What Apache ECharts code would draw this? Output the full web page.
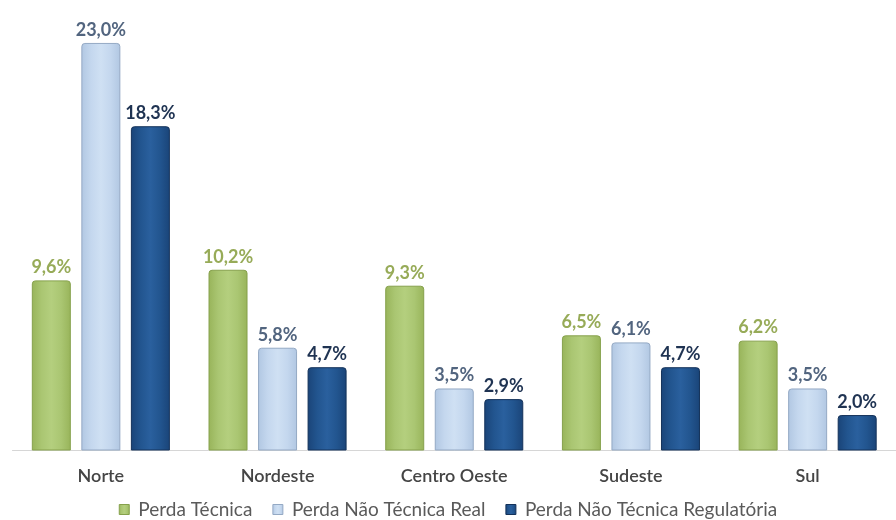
<!DOCTYPE html>
<html>
<head>
<meta charset="utf-8">
<script src="https://cdn.jsdelivr.net/npm/echarts@6/dist/echarts.min.js"></script>
<style>
  html, body { margin: 0; padding: 0; background: #ffffff; }
  #chart { width: 896px; height: 520px; }
</style>
</head>
<body>
<div id="chart"></div>
<script>
// Regiões e perdas de energia (% da energia injetada)
const regioes = ['Norte', 'Nordeste', 'Centro Oeste', 'Sudeste', 'Sul'];
const perdaTecnica = [9.6, 10.2, 9.3, 6.5, 6.2];
const perdaNaoTecnicaReal = [23.0, 5.8, 3.5, 6.1, 3.5];
const perdaNaoTecnicaRegulatoria = [18.3, 4.7, 2.9, 4.7, 2.0];
const nomesSeries = ['Perda Técnica', 'Perda Não Técnica Real', 'Perda Não Técnica Regulatória'];

const FONT = 'Lato, "Open Sans", sans-serif';

function cylinder(edge, mid, light) {
  return new echarts.graphic.LinearGradient(0, 0, 1, 0, [
    { offset: 0, color: edge },
    { offset: 0.25, color: mid },
    { offset: 0.5, color: light },
    { offset: 0.75, color: mid },
    { offset: 1, color: edge }
  ]);
}

const estilos = [
  { fill: cylinder('#98b45a', '#aac672', '#b4cf7e'), border: '#86a14c', label: '#97ab58' },
  { fill: cylinder('#b1c7e2', '#c4d7ee', '#cfe0f3'), border: '#94a9c4', label: '#52657f' },
  { fill: cylinder('#1a4478', '#22558f', '#2a609e'), border: '#14325a', label: '#1f3352' }
];

const valores = [perdaTecnica, perdaNaoTecnicaReal, perdaNaoTecnicaRegulatoria];

const series = nomesSeries.map((nome, i) => ({
  name: nome,
  type: 'bar',
  data: valores[i],
  barWidth: 39,
  barGap: '27%',
  itemStyle: {
    color: estilos[i].fill,
    borderColor: estilos[i].border,
    borderWidth: 1,
    borderRadius: [3, 3, 0, 0]
  },
  label: {
    show: true,
    position: 'top',
    distance: 4,
    formatter: p => p.value.toFixed(1).replace('.', ',') + '%',
    color: estilos[i].label,
    fontFamily: FONT,
    fontWeight: 'bold',
    fontSize: 18
  }
}));

const chart = echarts.init(document.getElementById('chart'), null, { renderer: 'canvas' });
chart.setOption({
  animation: false,
  backgroundColor: '#ffffff',
  grid: { left: 12.5, width: 895, top: 7.5, bottom: 69.5, containLabel: false },
  legend: {
    data: nomesSeries.map((n, i) => ({
      name: n,
      itemStyle: { color: estilos[i].fill, borderColor: estilos[i].border, borderWidth: 1 }
    })),
    top: 495,
    left: 'center',
    itemWidth: 10,
    itemHeight: 10,
    itemGap: 20,
    icon: 'rect',
    textStyle: { fontFamily: FONT, fontSize: 19, color: '#5a5a5a', padding: [0, 0, 0, 4] }
  },
  xAxis: {
    type: 'category',
    data: regioes,
    axisLine: { show: true, lineStyle: { color: '#d6d6d6', width: 1 } },
    axisTick: { show: false },
    axisLabel: {
      margin: 17,
      fontFamily: FONT,
      fontSize: 18,
      fontWeight: 600,
      color: '#454545'
    }
  },
  yAxis: {
    type: 'value',
    min: 0,
    max: 25,
    show: false,
    splitLine: { show: false }
  },
  series: series
});
</script>
</body>
</html>
